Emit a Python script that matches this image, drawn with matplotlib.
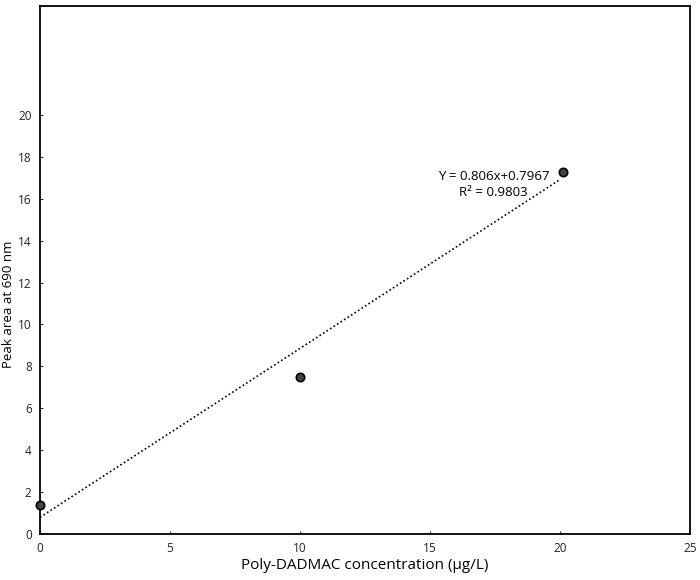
import matplotlib
matplotlib.use("Agg")
import matplotlib.pyplot as plt
import numpy as np

# Data
conc = [0, 10, 20.1]
peak_area = [1.4, 7.5, 17.3]
slope = 0.806
intercept = 0.7967
r2 = 0.9803
fit_x = [0, 20]
xticks = [0, 5, 10, 15, 20, 25]
yticks = [0, 2, 4, 6, 8, 10, 12, 14, 16, 18, 20]

plt.rcParams['font.family'] = ['Open Sans', 'DejaVu Sans']

fig = plt.figure(figsize=(7, 5.8), dpi=100)
ax = fig.add_axes([40/700, 1-534/580, 650/700, 528/580])

fx = np.array(fit_x, dtype=float)
ax.plot(fx, slope*fx + intercept, color='black', linestyle=(0, (1, 1.5)), linewidth=1.2)
ax.plot(conc, peak_area, linestyle='none', marker='o', ms=6, mfc='#444444', mec='black', mew=1.2, clip_on=False, zorder=5)

ax.set_xlim(0, 25)
ax.set_ylim(0, 25.2)
ax.set_xticks(xticks)
ax.set_yticks(yticks)
ax.tick_params(axis='both', labelsize=8.5, length=2, width=0.6, direction='in', pad=6, colors='black', labelcolor='#222222')
for s in ax.spines.values():
    s.set_linewidth(1.3)
    s.set_color('black')

ax.set_xlabel('Poly-DADMAC concentration (μg/L)', fontsize=11, labelpad=2)
ax.set_ylabel('Peak area at 690 nm', fontsize=9.5)
ax.yaxis.set_label_coords(-0.039, 0.436)

fig.text(494/700, 1-177/580, f'Y = {slope}x+{intercept}', fontsize=9.5, ha='center', va='center')
fig.text(493/700, 1-193/580, f'R² = {r2}', fontsize=9.5, ha='center', va='center')

fig.savefig('out.png', dpi=100)
